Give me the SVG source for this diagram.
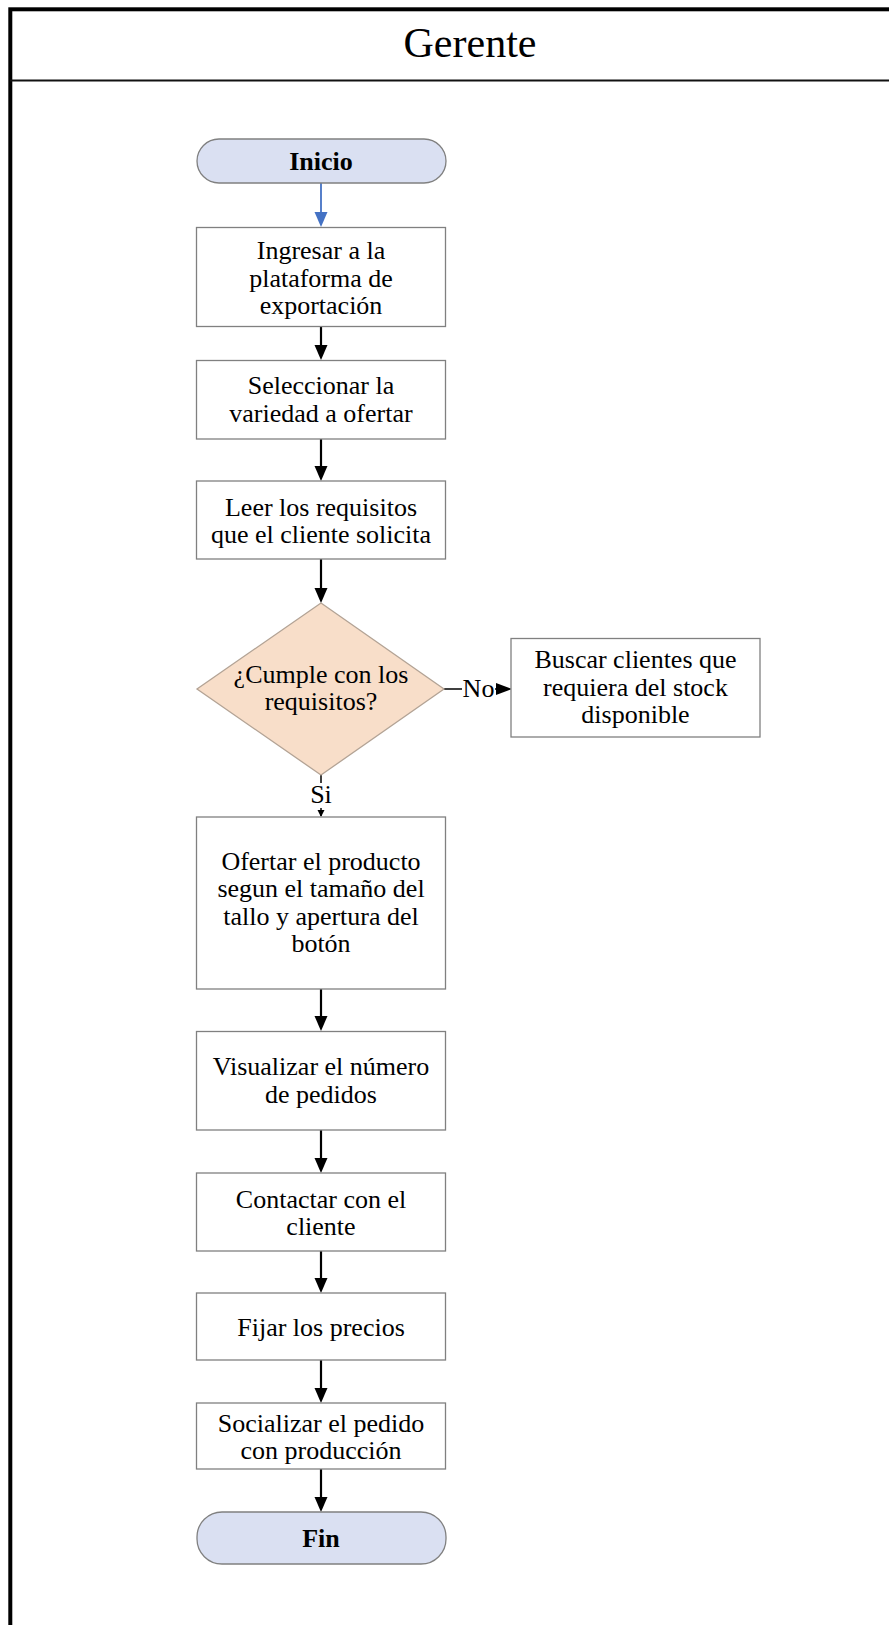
<svg xmlns="http://www.w3.org/2000/svg" width="889" height="1625" viewBox="0 0 889 1625">
  <style>
    .txt { font-family: "Liberation Serif", "Times New Roman", serif; font-size: 26px; fill: #000; text-anchor: middle; }
    .term-txt { font-family: "Liberation Serif", "Times New Roman", serif; font-size: 26px; font-weight: bold; fill: #000; text-anchor: middle; }
    .box { fill: #ffffff; stroke: #808080; stroke-width: 1.3; }
    .term { fill: #dae0f2; stroke: #808080; stroke-width: 1.3; }
    .decision { fill: #f8dec9; stroke: #b3a395; stroke-width: 1.3; }
    .flow { stroke: #000; stroke-width: 2.2; fill: none; marker-end: url(#arrow); }
    .flow-thin { stroke: #000; stroke-width: 1.5; fill: none; }
    .label-bg { fill: #ffffff; }
  </style>
  <defs>
    <marker id="arrow" markerUnits="userSpaceOnUse" markerWidth="16" markerHeight="14" refX="11" refY="6.5" orient="auto">
      <path d="M0,0 L15,6.5 L0,13 z" fill="#000"/>
    </marker>
    <marker id="arrow-blue" markerUnits="userSpaceOnUse" markerWidth="16" markerHeight="14" refX="11" refY="6.5" orient="auto">
      <path d="M0,0 L15,6.5 L0,13 z" fill="#4472c4"/>
    </marker>
    <marker id="arrow-small" markerUnits="userSpaceOnUse" markerWidth="10" markerHeight="10" refX="6" refY="3.5" orient="auto">
      <path d="M0,0 L7,3.5 L0,7 z" fill="#000"/>
    </marker>
    <marker id="arrow-mid" markerUnits="userSpaceOnUse" markerWidth="18" markerHeight="14" refX="12" refY="6" orient="auto">
      <path d="M0,0 L16,6 L0,12 z" fill="#000"/>
    </marker>
  </defs>

  <!-- page background -->
  <rect x="0" y="0" width="889" height="1625" fill="#ffffff"/>

  <!-- swimlane frame and header -->
  <g id="lane">
    <rect x="10.3" y="9.3" width="900" height="1640" fill="none" stroke="#000" stroke-width="4"/>
    <line x1="10" y1="80.5" x2="889" y2="80.5" stroke="#111" stroke-width="2"/>
    <text x="470" y="57" font-family="Liberation Serif, Times New Roman, serif" font-size="42" text-anchor="middle" fill="#000">Gerente</text>
  </g>

  <!-- connectors -->
  <g id="connectors">
    <line x1="321" y1="183" x2="321" y2="223" stroke="#4472c4" stroke-width="1.8" marker-end="url(#arrow-blue)"/>
    <line class="flow" x1="321" y1="327" x2="321" y2="356"/>
    <line class="flow" x1="321" y1="439" x2="321" y2="477"/>
    <line class="flow" x1="321" y1="559" x2="321" y2="599"/>
    <!-- Si branch -->
    <line class="flow-thin" x1="321" y1="775" x2="321" y2="816" marker-end="url(#arrow-small)"/>
    <rect class="label-bg" x="308" y="783" width="26" height="25"/>
    <text class="txt" x="321" y="803">Si</text>
    <!-- No branch -->
    <line class="flow-thin" x1="444" y1="689" x2="508" y2="689" marker-end="url(#arrow-mid)"/>
    <rect class="label-bg" x="462" y="676" width="33" height="26"/>
    <text class="txt" x="478.5" y="697">No</text>
    <line class="flow" x1="321" y1="989" x2="321" y2="1027"/>
    <line class="flow" x1="321" y1="1130" x2="321" y2="1169"/>
    <line class="flow" x1="321" y1="1251" x2="321" y2="1289"/>
    <line class="flow" x1="321" y1="1360" x2="321" y2="1399"/>
    <line class="flow" x1="321" y1="1469" x2="321" y2="1508"/>
  </g>

  <g id="inicio">
    <rect class="term" x="197" y="139" width="249" height="44" rx="22" ry="22"/>
    <text class="term-txt" x="321" y="170">Inicio</text>
  </g>

  <g id="ingresar">
    <rect class="box" x="196.5" y="227.5" width="249" height="99"/>
    <text class="txt" x="321" y="259">Ingresar a la</text>
    <text class="txt" x="321" y="286.5">plataforma de</text>
    <text class="txt" x="321" y="314">exportación</text>
  </g>

  <g id="seleccionar">
    <rect class="box" x="196.5" y="360.5" width="249" height="78.5"/>
    <text class="txt" x="321" y="394">Seleccionar la</text>
    <text class="txt" x="321" y="422">variedad a ofertar</text>
  </g>

  <g id="leer">
    <rect class="box" x="196.5" y="481" width="249" height="78"/>
    <text class="txt" x="321" y="515.5">Leer los requisitos</text>
    <text class="txt" x="321" y="543">que el cliente solicita</text>
  </g>

  <g id="cumple">
    <polygon class="decision" points="321,603 444,689 321,775 197,689"/>
    <text class="txt" x="321" y="683">¿Cumple con los</text>
    <text class="txt" x="321" y="710">requisitos?</text>
  </g>

  <g id="buscar">
    <rect class="box" x="511" y="638.5" width="249" height="98.5"/>
    <text class="txt" x="635.5" y="668">Buscar clientes que</text>
    <text class="txt" x="635.5" y="695.5">requiera del stock</text>
    <text class="txt" x="635.5" y="723">disponible</text>
  </g>

  <g id="ofertar">
    <rect class="box" x="196.5" y="817" width="249" height="172"/>
    <text class="txt" x="321" y="869.5">Ofertar el producto</text>
    <text class="txt" x="321" y="897">segun el tamaño del</text>
    <text class="txt" x="321" y="924.5">tallo y apertura del</text>
    <text class="txt" x="321" y="952">botón</text>
  </g>

  <g id="visualizar">
    <rect class="box" x="196.5" y="1031.5" width="249" height="98.5"/>
    <text class="txt" x="321" y="1075">Visualizar el número</text>
    <text class="txt" x="321" y="1102.5">de pedidos</text>
  </g>

  <g id="contactar">
    <rect class="box" x="196.5" y="1173" width="249" height="78"/>
    <text class="txt" x="321" y="1207.5">Contactar con el</text>
    <text class="txt" x="321" y="1235">cliente</text>
  </g>

  <g id="fijar">
    <rect class="box" x="196.5" y="1293" width="249" height="67"/>
    <text class="txt" x="321" y="1335.5">Fijar los precios</text>
  </g>

  <g id="socializar">
    <rect class="box" x="196.5" y="1403" width="249" height="66"/>
    <text class="txt" x="321" y="1431.5">Socializar el pedido</text>
    <text class="txt" x="321" y="1459">con producción</text>
  </g>

  <g id="fin">
    <rect class="term" x="197" y="1512" width="249" height="52" rx="25" ry="25"/>
    <text class="term-txt" x="321" y="1547">Fin</text>
  </g>
</svg>
